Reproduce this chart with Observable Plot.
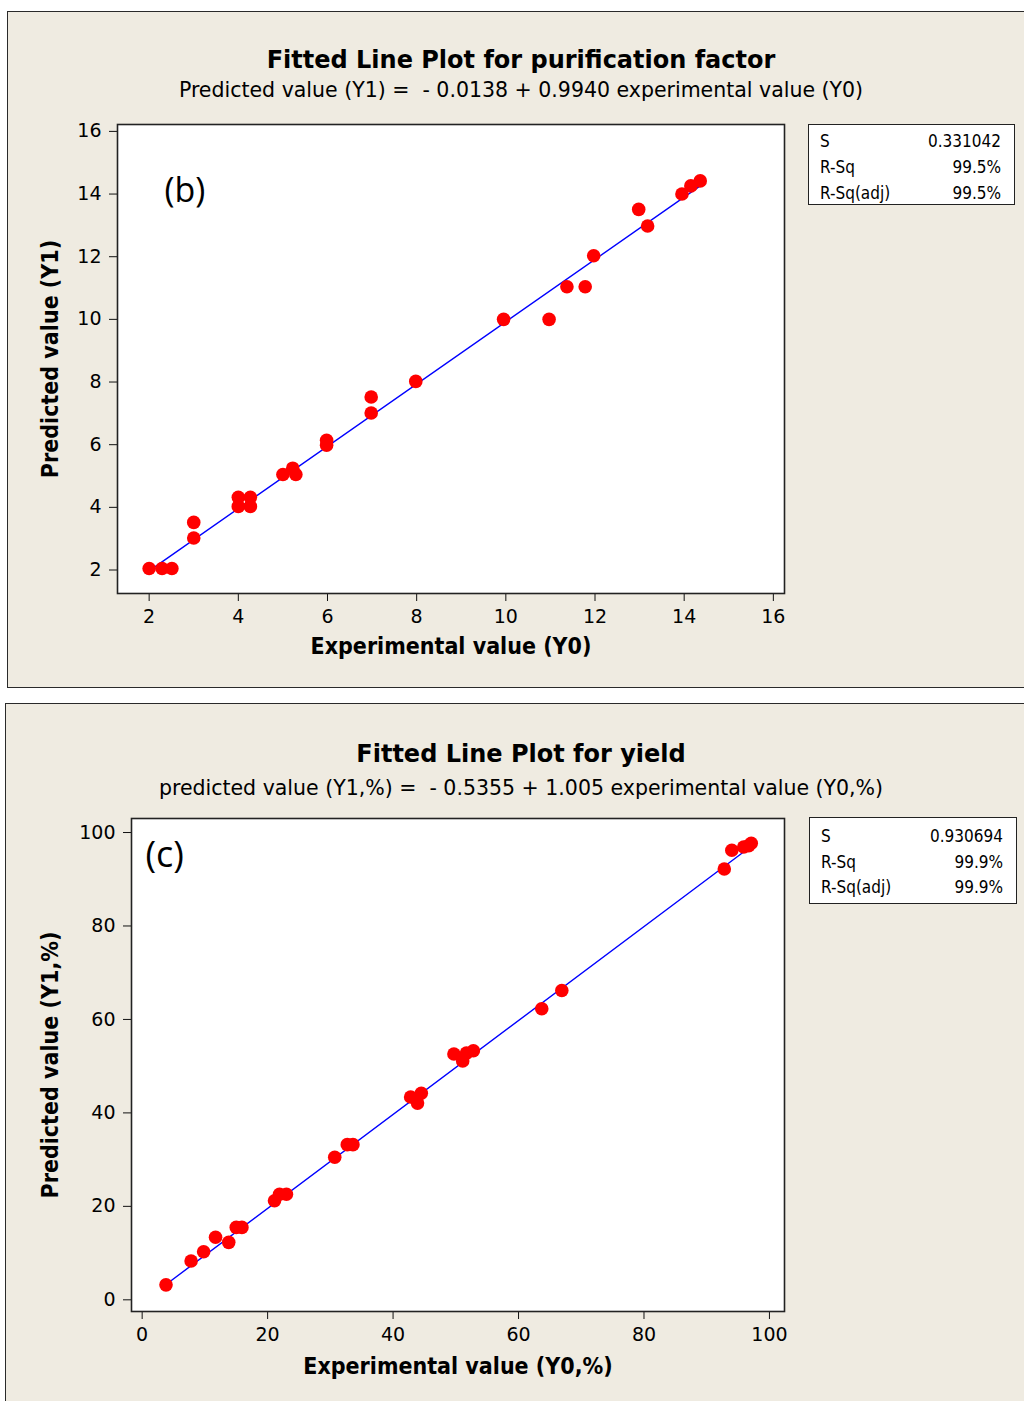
<!DOCTYPE html>
<html><head><meta charset="utf-8">
<script src="https://cdn.jsdelivr.net/npm/d3@7"></script>
<script src="https://cdn.jsdelivr.net/npm/@observablehq/plot@0.6"></script>
<style>
html,body{margin:0;padding:0;background:#fff;overflow:hidden;}
#page{position:relative;width:1024px;height:1401px;overflow:hidden;font-family:"DejaVu Sans Condensed","DejaVu Sans",sans-serif;color:#000;}
.panel{position:absolute;box-sizing:border-box;background:#efebe1;border:1.5px solid #2a2a2a;}
.ttl{position:absolute;left:0;width:1042px;text-align:center;white-space:pre;line-height:1;font-family:"DejaVu Sans",sans-serif;}
.ttl.main{font-weight:bold;font-size:24px;}
.ttl.sub{font-size:20.5px;}
.stats{position:absolute;box-sizing:border-box;background:#fff;border:1.5px solid #222;font-size:17px;}
.stats .row{position:absolute;left:11px;right:13px;line-height:1;display:flex;justify-content:space-between;}
.plot{position:absolute;left:0;}
</style></head>
<body><div id="page">
<div class="panel" style="left:7px;top:11px;width:1040px;height:677px;"></div>
<div class="panel" style="left:5px;top:703px;width:1040px;height:720px;"></div>
</div>
<script>
// Panel (b): purification factor
const bTitle = "Fitted Line Plot for purification factor";
const bSub = "Predicted value (Y1) =  - 0.0138 + 0.9940 experimental value (Y0)";
const bXLabel = "Experimental value (Y0)";
const bYLabel = "Predicted value (Y1)";
const bTag = "(b)";
const bIntercept = -0.0138, bSlope = 0.9940;
const bX = [2,2.29,2.51,3,3,4,4,4.27,4.27,5,5.22,5.29,5.98,5.98,6.98,6.98,7.98,9.95,10.97,11.37,11.78,11.97,12.98,13.18,13.95,14.15,14.36];
const bY = [2.05,2.05,2.05,3.02,3.52,4.03,4.32,4.03,4.32,5.05,5.25,5.05,5.98,6.14,7.01,7.52,8.02,10.0,10.0,11.04,11.04,12.03,13.51,12.98,14.0,14.26,14.42];
const bTicks = [2,4,6,8,10,12,14,16];
const bStatNames = ["S","R-Sq","R-Sq(adj)"];
const bStatVals = ["0.331042","99.5%","99.5%"];

// Panel (c): yield
const cTitle = "Fitted Line Plot for yield";
const cSub = "predicted value (Y1,%) =  - 0.5355 + 1.005 experimental value (Y0,%)";
const cXLabel = "Experimental value (Y0,%)";
const cYLabel = "Predicted value (Y1,%)";
const cTag = "(c)";
const cIntercept = -0.5355, cSlope = 1.005;
const cX = [3.8,7.8,9.8,11.7,13.8,15.0,15.9,21.1,21.9,23.0,30.7,32.7,33.6,42.8,43.9,44.5,49.7,51.1,51.7,52.8,63.7,66.9,92.8,94.0,95.9,96.7,97.1];
const cY = [3.2,8.3,10.3,13.4,12.3,15.5,15.5,21.2,22.6,22.6,30.5,33.2,33.2,43.4,42.1,44.2,52.6,51.1,52.8,53.3,62.3,66.2,92.2,96.2,96.9,97.2,97.7];
const cTicks = [0,20,40,60,80,100];
const cStatNames = ["S","R-Sq","R-Sq(adj)"];
const cStatVals = ["0.930694","99.9%","99.9%"];

const page = document.getElementById("page");
const FONT = '"DejaVu Sans",sans-serif';
const LFONT = '"DejaVu Sans Condensed","DejaVu Sans",sans-serif';

function addText(cls, text, top) {
  const d = document.createElement("div");
  d.className = "ttl " + cls;
  d.style.top = top + "px";
  d.textContent = text;
  page.appendChild(d);
}
function addStats(box, names, vals, rowTops) {
  const s = document.createElement("div");
  s.className = "stats";
  Object.assign(s.style, {left: box[0]+"px", top: box[1]+"px", width: box[2]+"px", height: box[3]+"px"});
  names.forEach((n, i) => {
    const r = document.createElement("div");
    r.className = "row";
    r.style.top = rowTops[i] + "px";
    const a = document.createElement("span"); a.textContent = n;
    const b = document.createElement("span"); b.textContent = vals[i];
    r.append(a, b);
    s.appendChild(r);
  });
  page.appendChild(s);
}

function makePlot(o) {
  const data = o.xs.map((x, i) => ({x, y: o.ys[i]}));
  const x0 = d3.min(o.xs), x1 = d3.max(o.xs);
  const fit = [x0, x1].map(x => ({x, y: o.a + o.b * x}));
  const p = Plot.plot({
    width: o.width, height: o.height,
    marginLeft: o.ml, marginRight: o.mr, marginTop: o.mt, marginBottom: o.mb,
    style: {background: "transparent", fontFamily: FONT, color: "#000", overflow: "visible"},
    x: {domain: o.xd},
    y: {domain: o.yd},
    marks: [
      Plot.frame({fill: "white"}),
      Plot.axisX({ticks: o.ticks, tickSize: 8, tickPadding: 8, fontSize: 19, label: null, stroke: "#111"}),
      Plot.axisY({ticks: o.ticks, tickSize: 8, tickPadding: 8, fontSize: 19, label: null, stroke: "#111"}),
      Plot.line(fit, {x: "x", y: "y", stroke: "#0000ff", strokeWidth: 1.4}),
      Plot.dot(data, {x: "x", y: "y", r: 6.8, fill: "#ff0000", stroke: "none"}),
      Plot.frame({stroke: "#222", strokeWidth: 1.6}),
      Plot.text([o.xl], {frameAnchor: "bottom", lineAnchor: "middle", textAnchor: "middle", dy: o.xldy, fontSize: 23, fontWeight: "bold", fontFamily: LFONT}),
      Plot.text([o.yl], {frameAnchor: "left", lineAnchor: "middle", textAnchor: "middle", dx: o.yldx, rotate: -90, fontSize: 23, fontWeight: "bold", fontFamily: LFONT}),
      Plot.text([o.tag], {frameAnchor: "top-left", lineAnchor: "middle", textAnchor: "start", dx: o.tagdx, dy: o.tagdy, fontSize: o.tagSize, fontFamily: "Open Sans, Noto Sans, sans-serif"})
    ]
  });
  p.classList.add("plot");
  p.style.top = o.top + "px";
  page.appendChild(p);
}

addText("main", bTitle, 47.7);
addText("sub", bSub, 79.5);
makePlot({xs: bX, ys: bY, a: bIntercept, b: bSlope, ticks: bTicks,
  width: 800, height: 570, top: 110, ml: 117, mr: 16, mt: 14, mb: 87,
  xd: [1.29, 16.25], yd: [1.25, 16.22],
  xl: bXLabel, yl: bYLabel, xldy: 53, yldx: -67,
  tag: bTag, tagdx: 47, tagdy: 67, tagSize: 34});
addStats([808, 124, 207, 81], bStatNames, bStatVals, [8, 34, 60]);

addText("main", cTitle, 741.7);
addText("sub", cSub, 777.5);
makePlot({xs: cX, ys: cY, a: cIntercept, b: cSlope, ticks: cTicks,
  width: 800, height: 590, top: 805, ml: 131, mr: 16, mt: 13, mb: 84,
  xd: [-1.7, 102.4], yd: [-2.5, 103],
  xl: cXLabel, yl: cYLabel, xldy: 55, yldx: -81,
  tag: cTag, tagdx: 14, tagdy: 37, tagSize: 36});
addStats([809, 817, 208, 87], cStatNames, cStatVals, [10, 36, 61]);
</script>
</body></html>
